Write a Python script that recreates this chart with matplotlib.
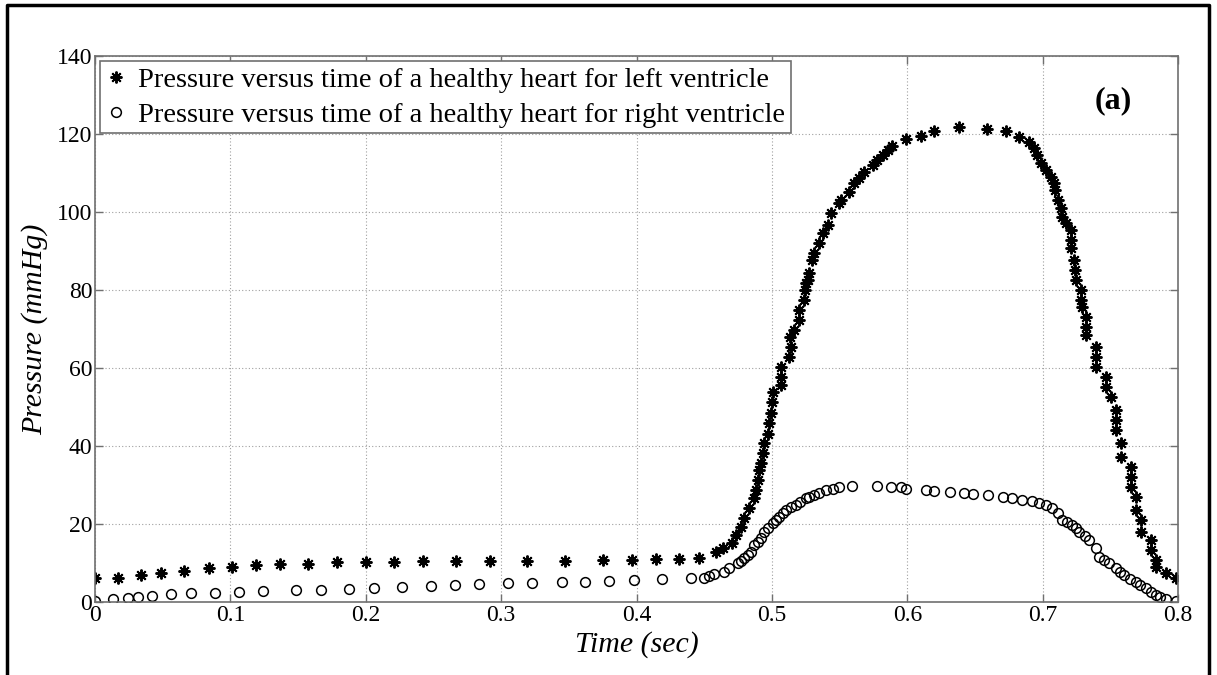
import matplotlib.pyplot as plt
import numpy as np
from matplotlib.lines import Line2D

plt.close('all')

# left ventricle pressure samples [sec, mmHg]
t_lv = [0.000, 0.017, 0.034, 0.049, 0.066, 0.084, 0.101, 0.119, 0.137, 0.157,
        0.179, 0.200, 0.221, 0.242, 0.267, 0.2915, 0.319, 0.347, 0.375, 0.3965,
        0.4145, 0.4317, 0.446, 0.4588, 0.4637, 0.4706, 0.4736, 0.4772, 0.4797, 0.4834,
        0.4866, 0.488, 0.4895, 0.4908, 0.4923, 0.4932, 0.4945, 0.4969, 0.4977, 0.4993,
        0.5001, 0.5006, 0.5068, 0.5068, 0.5068, 0.5129, 0.514, 0.5135, 0.5166, 0.5203,
        0.5203, 0.524, 0.5245, 0.5252, 0.5264, 0.5277, 0.530, 0.5314, 0.535, 0.5375,
        0.5412, 0.5437, 0.5498, 0.551, 0.5572, 0.5609, 0.5646, 0.5683, 0.5744, 0.578,
        0.5818, 0.5855, 0.589, 0.599, 0.610, 0.620, 0.638, 0.659, 0.6728, 0.6827,
        0.690, 0.6937, 0.6962, 0.6987, 0.7023, 0.706, 0.7085, 0.709, 0.711, 0.7134,
        0.7146, 0.717, 0.7208, 0.7208, 0.7208, 0.7232, 0.724, 0.7245, 0.7282, 0.7282,
        0.7294, 0.7318, 0.7318, 0.7318, 0.7392, 0.7392, 0.7392, 0.7466, 0.7466, 0.7503,
        0.754, 0.754, 0.754, 0.7577, 0.7577, 0.765, 0.765, 0.765, 0.7688, 0.7688,
        0.7725, 0.7725, 0.780, 0.780, 0.7835, 0.7835, 0.791, 0.7983]
p_lv = [6.1, 6.2, 6.9, 7.5, 8.0, 8.6, 9.1, 9.4, 9.7, 9.7,
        10.3, 10.3, 10.3, 10.5, 10.5, 10.5, 10.5, 10.5, 10.8, 10.8,
        10.9, 10.9, 11.2, 12.7, 13.8, 15.2, 17.2, 19.3, 21.5, 24.0,
        26.6, 28.7, 31.3, 33.8, 35.6, 38.1, 40.7, 43.2, 45.8, 48.4,
        51.4, 53.9, 55.6, 57.8, 60.3, 62.9, 65.5, 68.0, 69.7, 72.3,
        74.9, 77.4, 80.0, 81.7, 82.6, 84.3, 87.7, 89.4, 92.0, 94.5,
        96.7, 99.7, 102.2, 103.0, 105.2, 107.4, 108.6, 110.3, 112.0, 113.3,
        114.6, 115.9, 116.9, 118.6, 119.6, 120.8, 121.7, 121.4, 120.8, 119.3,
        118.0, 116.3, 114.6, 112.5, 110.8, 109.0, 107.4, 105.6, 103.0, 101.0,
        98.8, 97.1, 95.4, 92.8, 90.7, 87.7, 85.1, 82.6, 80.0, 77.4,
        75.7, 73.1, 70.6, 68.5, 65.5, 62.9, 60.3, 57.8, 55.2, 52.6,
        49.2, 46.7, 44.1, 40.7, 37.3, 34.7, 32.1, 29.6, 27.0, 23.6,
        21.0, 18.0, 15.9, 13.3, 10.8, 9.0, 7.4, 6.1]

# right ventricle pressure samples [sec, mmHg]
t_rv = [0.000, 0.0135, 0.0246, 0.0315, 0.0423, 0.0561, 0.0708, 0.0886, 0.1063, 0.1238,
        0.1488, 0.1668, 0.1877, 0.2059, 0.2268, 0.2485, 0.2662, 0.2836, 0.305, 0.323,
        0.3446, 0.3621, 0.380, 0.398, 0.419, 0.4404, 0.450, 0.4539, 0.4576, 0.465,
        0.4686, 0.4748, 0.4772, 0.4797, 0.482, 0.4846, 0.4871, 0.490, 0.492, 0.4945,
        0.497, 0.5006, 0.503, 0.5055, 0.508, 0.5105, 0.514, 0.5179, 0.521, 0.5252,
        0.5277, 0.531, 0.535, 0.540, 0.5449, 0.5493, 0.5592, 0.5774, 0.588, 0.5953,
        0.599, 0.6138, 0.620, 0.6315, 0.642, 0.6487, 0.660, 0.6708, 0.6777, 0.685,
        0.6925, 0.6974, 0.7023, 0.7072, 0.711, 0.7146, 0.718, 0.722, 0.7245, 0.727,
        0.731, 0.7343, 0.7392, 0.7417, 0.7455, 0.749, 0.754, 0.757, 0.760, 0.7645,
        0.7688, 0.772, 0.776, 0.780, 0.7835, 0.787, 0.791, 0.7983]
p_rv = [0.3, 0.7, 1.0, 1.4, 1.6, 2.0, 2.2, 2.4, 2.6, 2.9,
        3.1, 3.2, 3.4, 3.7, 3.9, 4.2, 4.4, 4.5, 4.8, 5.0,
        5.1, 5.1, 5.5, 5.6, 5.8, 6.1, 6.2, 6.7, 7.2, 7.8,
        8.6, 10.1, 10.6, 11.2, 12.0, 12.9, 14.6, 15.4, 16.3, 18.0,
        19.0, 20.2, 21.0, 21.9, 22.8, 23.6, 24.3, 24.9, 25.6, 26.6,
        27.0, 27.4, 27.9, 28.7, 29.1, 29.6, 29.7, 29.7, 29.6, 29.4,
        29.0, 28.7, 28.5, 28.3, 27.9, 27.7, 27.4, 27.0, 26.6, 26.2,
        26.0, 25.5, 24.9, 24.0, 22.8, 21.0, 20.4, 19.7, 18.9, 18.0,
        17.0, 15.9, 13.8, 11.6, 10.8, 9.9, 8.6, 7.7, 6.9, 6.0,
        5.2, 4.3, 3.5, 2.6, 1.8, 1.2, 0.7, 0.3]

lv_label = 'Pressure versus time of a healthy heart for left ventricle'
rv_label = 'Pressure versus time of a healthy heart for right ventricle'

plt.rcParams['font.family'] = 'Liberation Serif'

fontsz = 17
axcol = '#707070'
asterisk = (8, 2, 0)

fig = plt.figure(figsize=(12.17, 6.75), dpi=100)
fig.set_facecolor('w')
ax = fig.add_axes([95/1217., 1 - 602/675., (1178 - 95)/1217., (602 - 56)/675.])

ax.plot(t_lv, p_lv, linestyle='none', marker=asterisk, markersize=8.5,
        markeredgewidth=1.4, color='k', label=lv_label)
ax.plot(t_rv, p_rv, linestyle='none', marker='o', markersize=7,
        markeredgewidth=1.1, markerfacecolor='none', markeredgecolor='k',
        label=rv_label)

ax.set_xlim(0, 0.8)
ax.set_ylim(0, 140)
ax.set_xticks(np.arange(0, 0.81, 0.1))
ax.set_xticklabels(['0'] + ['%.1f' % v for v in np.arange(0.1, 0.81, 0.1)])
ax.set_yticks(np.arange(0, 141, 20))
ax.grid(True, linestyle=(0, (1, 2)), color='#a0a0a0', linewidth=0.8)
ax.tick_params(direction='in', length=6, width=1, colors='k', labelsize=fontsz,
               top=True, right=True, pad=2)
ax.tick_params(which='both', color=axcol)
for sp in ax.spines.values():
    sp.set_color(axcol)
    sp.set_linewidth(1.2)

ax.set_xlabel('Time (sec)', fontsize=21.5, style='italic', labelpad=4)
ax.set_ylabel('Pressure (mmHg)', fontsize=21.5, style='italic', labelpad=6)

leg = ax.legend(loc='upper left', bbox_to_anchor=(0.0045, 0.99), fontsize=20.5,
                numpoints=1, handlelength=0.7, handletextpad=0.45,
                borderaxespad=0, borderpad=0.2, labelspacing=0.3,
                fancybox=False, framealpha=1, edgecolor=axcol)
leg.get_frame().set_linewidth(1.2)

ax.text(0.94, 0.919, '(a)', transform=ax.transAxes, fontsize=23,
        fontweight='bold', ha='center', va='center')

# outer frame (left, top, right)
fw, fh = 1217., 675.
fig.add_artist(Line2D([7/fw, 7/fw, 1209/fw, 1209/fw],
                      [0, 1 - 5/fh, 1 - 5/fh, 0], color='k', linewidth=2.5,
                      transform=fig.transFigure))

fig.savefig('out.png', dpi=100)
